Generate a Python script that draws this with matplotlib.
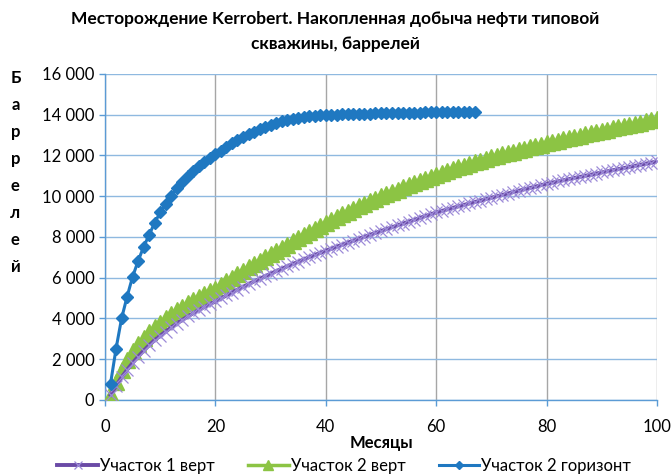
import numpy as np
import matplotlib
matplotlib.use('Agg')
import matplotlib.pyplot as plt

plt.rcParams['font.family'] = ['Lato', 'DejaVu Sans']

title = 'Месторождение Kerrobert. Накопленная добыча нефти типовой\nскважины, баррелей'
x_label = 'Месяцы'
y_label = 'Баррелей'
series_names = ['Участок 1 верт', 'Участок 2 верт', 'Участок 2 горизонт']

# cumulative production, barrels, by month
months_vert = list(range(1, 101))
months_horiz = list(range(1, 68))

uch1_vert = [
    250, 700, 1110, 1480, 1820, 2130, 2420, 2690, 2940, 3150,
    3360, 3560, 3750, 3930, 4100, 4262, 4417, 4565, 4705, 4838,
    4985, 5131, 5274, 5414, 5551, 5685, 5816, 5944, 6070, 6194,
    6316, 6436, 6554, 6670, 6784, 6896, 7006, 7114, 7220, 7324,
    7426, 7526, 7625, 7723, 7820, 7916, 8011, 8105, 8198, 8290,
    8383, 8475, 8567, 8658, 8749, 8840, 8930, 9020, 9110, 9200,
    9276, 9351, 9425, 9498, 9570, 9642, 9713, 9784, 9854, 9924,
    9994, 10063, 10132, 10201, 10269, 10337, 10405, 10473, 10540, 10608,
    10665, 10722, 10778, 10834, 10890, 10945, 11000, 11055, 11110, 11165,
    11219, 11273, 11327, 11381, 11435, 11489, 11543, 11597, 11651, 11705,
]

uch2_vert = [
    250, 900, 1450, 1950, 2400, 2750, 3050, 3320, 3570, 3800,
    4010, 4210, 4400, 4580, 4750, 4910, 5060, 5200, 5335, 5465,
    5643, 5819, 5993, 6165, 6335, 6503, 6669, 6833, 6995, 7155,
    7314, 7472, 7629, 7785, 7940, 8094, 8247, 8399, 8550, 8700,
    8838, 8974, 9108, 9240, 9370, 9498, 9624, 9748, 9870, 9990,
    10103, 10214, 10323, 10430, 10536, 10641, 10745, 10848, 10949, 11050,
    11145, 11237, 11327, 11415, 11501, 11585, 11667, 11747, 11826, 11904,
    11978, 12050, 12121, 12191, 12261, 12330, 12398, 12466, 12533, 12600,
    12663, 12725, 12787, 12848, 12909, 12969, 13029, 13089, 13148, 13207,
    13266, 13325, 13383, 13441, 13499, 13557, 13615, 13673, 13732, 13790,
]

uch2_horiz = [
    800, 2520, 4000, 5070, 6050, 6820, 7520, 8100, 8700, 9200,
    9640, 10030, 10380, 10700, 10990, 11250, 11490, 11700, 11890, 12060,
    12240, 12420, 12590, 12750, 12900, 13040, 13170, 13290, 13400, 13500,
    13590, 13670, 13740, 13800, 13850, 13890, 13920, 13945, 13965, 13980,
    13995, 14005, 14015, 14025, 14035, 14042, 14050, 14057, 14063, 14070,
    14075, 14080, 14085, 14090, 14095, 14100, 14104, 14108, 14112, 14116,
    14120, 14124, 14128, 14132, 14136, 14140, 14145,
]

x_ticks = [0, 20, 40, 60, 80, 100]
y_ticks = list(range(0, 16001, 2000))

fig = plt.figure(figsize=(6.71, 4.76), dpi=100)
ax = fig.add_axes([0.1565, 0.1597, 0.8225, 0.685])

ax.plot(months_vert, uch2_vert, color='#8cc444', lw=2.5, marker='^', ms=11,
        mec='#8cc444', mfc='#8cc444', label=series_names[1], zorder=3)
ax.plot(months_vert, uch1_vert, color='#6a4aa6', lw=2.8, marker='x', ms=9,
        mew=0.9, mec='#9c8ad8', label=series_names[0], zorder=4)
ax.plot(months_horiz, uch2_horiz, color='#1f78c1', lw=2.2, marker='D', ms=6.5,
        mec='#1f78c1', mfc='#1f78c1', label=series_names[2], zorder=5)

ax.set_xlim(0, 100)
ax.set_ylim(0, 16000)
ax.set_xticks(x_ticks)
ax.set_yticks(y_ticks)
ax.set_yticklabels(['{:,}'.format(v).replace(',', ' ') for v in y_ticks])

ax.grid(axis='y', color='#8fb9e0', lw=1.0)
ax.grid(axis='x', color='#a6a6a6', lw=1.0)
ax.set_axisbelow(True)

for s in ['top', 'right']:
    ax.spines[s].set_visible(False)
for s in ['left', 'bottom']:
    ax.spines[s].set_color('#5b9bd5')
    ax.spines[s].set_linewidth(1.0)
ax.tick_params(axis='both', colors='#5b9bd5', labelcolor='black', labelsize=12,
               length=4, width=1.0)
ax.tick_params(axis='x', pad=10)

fig.text(0.5, 0.976, title, ha='center', va='top', fontsize=12.5, fontweight='bold',
         linespacing=1.65)
fig.text(0.023, 0.853, '\n'.join(y_label), ha='center', va='top', fontsize=12,
         fontweight='bold', linespacing=1.85)
ax.set_xlabel(x_label, fontsize=12, fontweight='bold', labelpad=0)

handles, labels = ax.get_legend_handles_labels()
order = [1, 0, 2]
fig.legend([handles[i] for i in order], [labels[i] for i in order],
           loc='lower center', bbox_to_anchor=(0.513, -0.028), ncol=3, frameon=False,
           fontsize=12, handlelength=2.45, columnspacing=2.0, handletextpad=0.1,
           markerscale=0.65)

fig.savefig('out.png', dpi=100)
